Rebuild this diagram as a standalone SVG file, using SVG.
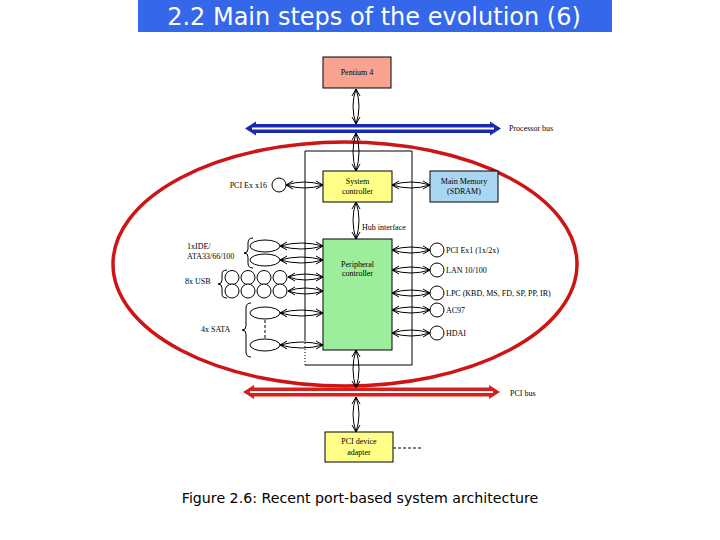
<svg xmlns="http://www.w3.org/2000/svg" width="720" height="540" viewBox="0 0 720 540">
<style>
.lbl{font-family:"Liberation Serif","Times New Roman",serif;font-size:8px;fill:#000}
.box{stroke:#000;stroke-width:1}
.arr{fill:none;stroke:#000;stroke-width:1}
.frame{fill:none;stroke:#000;stroke-width:1}
.port{fill:#fff;stroke:#000;stroke-width:1}
</style>
<rect width="720" height="540" fill="#fff"/>
<g id="title">
<rect x="138" y="0" width="474" height="32" fill="#3467ea"/>
<text x="374" y="25" text-anchor="middle" font-family="'DejaVu Sans',Verdana,sans-serif" font-size="24" fill="#fff">2.2 Main steps of the evolution (6)</text>
</g>
<g id="chipset-ellipse">
<ellipse cx="345" cy="264" rx="232" ry="122" fill="none" stroke="#cc1515" stroke-width="3.5"/>
</g>
<g id="frame">
<path class="frame" d="M305,340 V151 H412 V365 H305"/>
<path class="frame" d="M305,340 V365" stroke-dasharray="1,2"/>
</g>
<g id="connectors">
<path class="arr" d="M356,89 Q362,106 356,124 Q350,106 356,89 M352,96 L356,89 L360,96 M352,117 L356,124 L360,117"/>
<path class="arr" d="M356,133 Q362,152 356,171 Q350,152 356,133 M352,140 L356,133 L360,140 M352,164 L356,171 L360,164"/>
<path class="arr" d="M356,202 Q362,220 356,239 Q350,220 356,202 M352,209 L356,202 L360,209 M352,232 L356,239 L360,232"/>
<path class="arr" d="M356,350 Q362,369 356,388 Q350,369 356,350 M352,357 L356,350 L360,357 M352,381 L356,388 L360,381"/>
<path class="arr" d="M356,397 Q362,414 356,432 Q350,414 356,397 M352,404 L356,397 L360,404 M352,425 L356,432 L360,425"/>
<path class="arr" d="M286,185 Q304.5,191 323,185 Q304.5,179 286,185 M293,181 L286,185 L293,189 M316,181 L323,185 L316,189"/>
<path class="arr" d="M392,185 Q411,191 430,185 Q411,179 392,185 M399,181 L392,185 L399,189 M423,181 L430,185 L423,189"/>
<path class="arr" d="M280,246 Q301.5,252 323,246 Q301.5,240 280,246 M287,242 L280,246 L287,250 M316,242 L323,246 L316,250"/>
<path class="arr" d="M280,260 Q301.5,266 323,260 Q301.5,254 280,260 M287,256 L280,260 L287,264 M316,256 L323,260 L316,264"/>
<path class="arr" d="M288,277 Q305.5,283 323,277 Q305.5,271 288,277 M295,273 L288,277 L295,281 M316,273 L323,277 L316,281"/>
<path class="arr" d="M288,291 Q305.5,297 323,291 Q305.5,285 288,291 M295,287 L288,291 L295,295 M316,287 L323,291 L316,295"/>
<path class="arr" d="M280,313 Q301.5,319 323,313 Q301.5,307 280,313 M287,309 L280,313 L287,317 M316,309 L323,313 L316,317"/>
<path class="arr" d="M280,345 Q301.5,351 323,345 Q301.5,339 280,345 M287,341 L280,345 L287,349 M316,341 L323,345 L316,349"/>
<path class="arr" d="M392,250 Q411,256 430,250 Q411,244 392,250 M399,246 L392,250 L399,254 M423,246 L430,250 L423,254"/>
<path class="arr" d="M392,270 Q411,276 430,270 Q411,264 392,270 M399,266 L392,270 L399,274 M423,266 L430,270 L423,274"/>
<path class="arr" d="M392,293 Q411,299 430,293 Q411,287 392,293 M399,289 L392,293 L399,297 M423,289 L430,293 L423,297"/>
<path class="arr" d="M392,310 Q411,316 430,310 Q411,304 392,310 M399,306 L392,310 L399,314 M423,306 L430,310 L423,314"/>
<path class="arr" d="M392,333 Q411,339 430,333 Q411,327 392,333 M399,329 L392,333 L399,337 M423,329 L430,333 L423,337"/>
<path d="M265,320 V338" stroke="#000" stroke-width="1" stroke-dasharray="3,2" fill="none"/>
<path d="M393,448 H423" stroke="#000" stroke-width="1" stroke-dasharray="3,2" fill="none"/>
<path class="arr" d="M253,238 Q248,238 248,243 L248,249 Q248,253 244,253 Q248,253 248,257 L248,263 Q248,268 253,268"/>
<path class="arr" d="M227,270 Q222,270 222,274 L222,280 Q222,284 218,284 Q222,284 222,288 L222,294 Q222,298 227,298"/>
<path class="arr" d="M251,303 Q246,303 246,308 L246,326 Q246,330 242,330 Q246,330 246,334 L246,352 Q246,357 251,357"/>
</g>
<g id="processor-bus">
<polygon points="245,128.5 256,121.5 256,124 490,124 490,121.5 501,128.5 490,135.5 490,133 256,133 256,135.5" fill="#1a2aae"/>
<line x1="252" y1="128.5" x2="494" y2="128.5" stroke="#fff" stroke-width="2"/>
<text class="lbl" x="509" y="131">Processor bus</text>
</g>
<g id="pci-bus">
<polygon points="243,392 254,385 254,387.5 489,387.5 489,385 500,392 489,399 489,396.5 254,396.5 254,399" fill="#dd1c1c"/>
<line x1="250" y1="392" x2="493" y2="392" stroke="#fff" stroke-width="2"/>
<text class="lbl" x="510" y="396">PCI bus</text>
</g>
<g id="pentium4">
<rect class="box" x="323" y="57" width="68" height="31" fill="#f7a38f"/>
<text class="lbl" x="357" y="75" text-anchor="middle">Pentium 4</text>
</g>
<g id="system-controller">
<rect class="box" x="323" y="171" width="69" height="31" fill="#ffff88"/>
<text class="lbl" x="357.5" y="184" text-anchor="middle">System</text>
<text class="lbl" x="357.5" y="194" text-anchor="middle">controller</text>
</g>
<g id="main-memory">
<rect class="box" x="430" y="171" width="68" height="31" fill="#a9d6f3"/>
<text class="lbl" x="464" y="184" text-anchor="middle">Main Memory</text>
<text class="lbl" x="464" y="194" text-anchor="middle">(SDRAM)</text>
</g>
<g id="pci-ex16">
<circle class="port" cx="279" cy="185" r="7"/>
<text class="lbl" x="267" y="188" text-anchor="end">PCI Ex x16</text>
</g>
<g id="hub-interface">
<text class="lbl" x="362" y="230">Hub interface</text>
</g>
<g id="peripheral-controller">
<rect class="box" x="323" y="239" width="69" height="111" fill="#9cee9c"/>
<text class="lbl" x="357.5" y="267" text-anchor="middle">Peripheral</text>
<text class="lbl" x="357.5" y="276" text-anchor="middle">controller</text>
</g>
<g id="ide">
<ellipse class="port" cx="265" cy="246" rx="15" ry="6"/>
<ellipse class="port" cx="265" cy="260" rx="15" ry="6"/>
<text class="lbl" x="187" y="249">1xIDE/</text>
<text class="lbl" x="187" y="259">ATA33/66/100</text>
</g>
<g id="usb">
<circle class="port" cx="232" cy="277.5" r="7"/>
<circle class="port" cx="248" cy="277.5" r="7"/>
<circle class="port" cx="264" cy="277.5" r="7"/>
<circle class="port" cx="280" cy="277.5" r="7"/>
<circle class="port" cx="232" cy="291" r="7"/>
<circle class="port" cx="248" cy="291" r="7"/>
<circle class="port" cx="264" cy="291" r="7"/>
<circle class="port" cx="280" cy="291" r="7"/>
<text class="lbl" x="185" y="284">8x USB</text>
</g>
<g id="sata">
<ellipse class="port" cx="265" cy="313" rx="15" ry="6"/>
<ellipse class="port" cx="265" cy="345" rx="15" ry="6"/>
<text class="lbl" x="201" y="332">4x SATA</text>
</g>
<g id="pci-ex1">
<circle class="port" cx="437" cy="250" r="7"/>
<text class="lbl" x="446" y="253">PCI Ex1 (1x/2x)</text>
</g>
<g id="lan">
<circle class="port" cx="437" cy="270" r="7"/>
<text class="lbl" x="446" y="273">LAN 10/100</text>
</g>
<g id="lpc">
<circle class="port" cx="437" cy="293" r="7"/>
<text class="lbl" x="446" y="296">LPC (KBD, MS, FD, SP, PP, IR)</text>
</g>
<g id="ac97">
<circle class="port" cx="437" cy="310" r="7"/>
<text class="lbl" x="446" y="313">AC97</text>
</g>
<g id="hdai">
<circle class="port" cx="437" cy="333" r="7"/>
<text class="lbl" x="446" y="336">HDAI</text>
</g>
<g id="pci-device-adapter">
<rect class="box" x="325" y="432" width="68" height="30" fill="#ffff88"/>
<text class="lbl" x="359" y="444" text-anchor="middle">PCI device</text>
<text class="lbl" x="359" y="455" text-anchor="middle">adapter</text>
</g>
<g id="caption">
<text x="360" y="503" text-anchor="middle" font-family="'DejaVu Sans',Verdana,sans-serif" font-size="14.2" fill="#000">Figure 2.6: Recent port-based system architecture</text>
</g>
</svg>
